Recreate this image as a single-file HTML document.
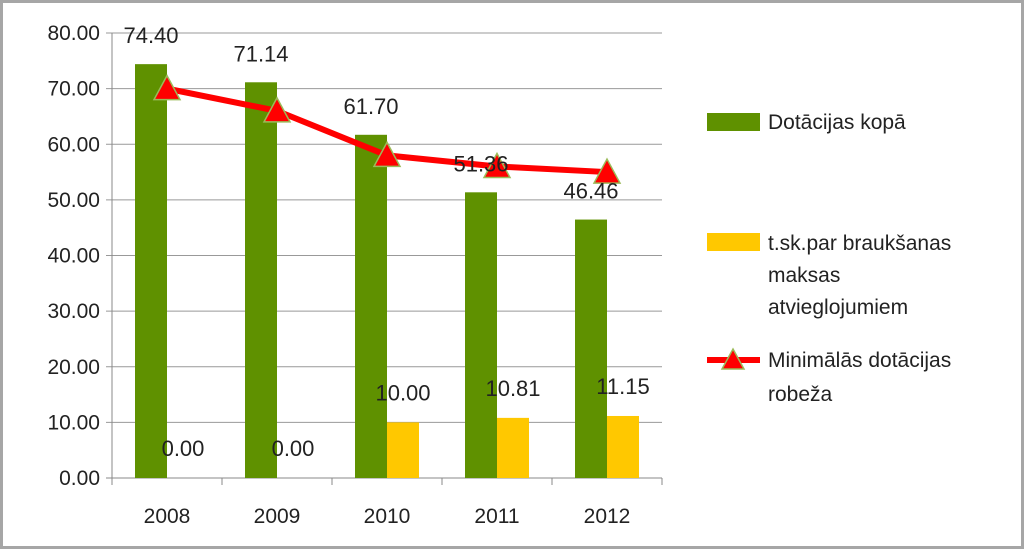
<!DOCTYPE html>
<html><head><meta charset="utf-8"><style>
html,body{margin:0;padding:0;background:#fff}
svg{display:block;font-family:"Liberation Sans",sans-serif}
</style></head><body>
<svg id="c" width="1024" height="549">
<rect x="1.5" y="1.5" width="1021" height="546" fill="#fff" stroke="#a6a6a6" stroke-width="3"/>
<g id="grid"></g><g id="bars"></g><g id="line"></g><g id="labels"></g>
<g font-size="21" fill="#222">
 <rect x="707" y="113" width="53" height="18" fill="#5f9100"/>
 <text x="768" y="129">Dotācijas kopā</text>
 <rect x="707" y="233" width="53" height="18" fill="#ffc800"/>
 <text x="768" y="250"><tspan x="768">t.sk.par braukšanas</tspan><tspan x="768" dy="32">maksas</tspan><tspan x="768" dy="32">atvieglojumiem</tspan></text>
 <line x1="707" y1="360" x2="760" y2="360" stroke="#ff0000" stroke-width="6"/>
 <polygon points="733,349 744,369 722,369" fill="#ff0000" stroke="#9bbb59" stroke-width="1.5"/>
 <text x="768" y="367"><tspan x="768">Minimālās dotācijas</tspan><tspan x="768" dy="34">robeža</tspan></text>
</g>
</svg>
<script>
const categories=["2008","2009","2010","2011","2012"];
const totalValues=[74.40,71.14,61.70,51.36,46.46];
const fareValues=[0.00,0.00,10.00,10.81,11.15];
const minValues=[70,66,58,56,55];
const yTicks=[0,10,20,30,40,50,60,70,80];
const NS="http://www.w3.org/2000/svg";
const L=112,R=662,T=33,B=478,yMax=80;
const cw=(R-L)/categories.length,bw=32;
const y=v=>B-(v/yMax)*(B-T);
const xc=i=>L+cw*(i+0.5);
function mk(tag,attrs,parent,text){const e=document.createElementNS(NS,tag);for(const k in attrs)e.setAttribute(k,attrs[k]);if(text!==undefined)e.textContent=text;document.getElementById(parent).appendChild(e);return e;}
yTicks.forEach(t=>{
 const g=mk("line",{x1:L-6,x2:R,y1:y(t),y2:y(t),stroke:t===0?"#888":"#999","stroke-width":1},"grid");
 
 
 const tx=mk("text",{x:L-12,y:y(t)+7,"text-anchor":"end","font-size":21,fill:"#222"},"grid",t.toFixed(2));
 
 
});
const ax=mk("line",{x1:L,x2:L,y1:T,y2:B,stroke:"#888"},"grid");


for(let i=0;i<=categories.length;i++){
 const tk=mk("line",{x1:L+cw*i,x2:L+cw*i,y1:B,y2:B+7,stroke:"#888"},"grid");
 
 
}
categories.forEach((c,i)=>{
 const t=mk("text",{x:xc(i),y:B+45,"text-anchor":"middle","font-size":21,fill:"#222"},"labels",c);
 
 
 const gb=mk("rect",{x:xc(i)-bw,y:y(totalValues[i]),width:bw,height:B-y(totalValues[i]),fill:"#5f9100"},"bars");
 
 
 const yb=mk("rect",{x:xc(i),y:y(fareValues[i]),width:bw,height:B-y(fareValues[i]),fill:"#ffc800"},"bars");
 
 
 const gl=mk("text",{x:xc(i)-bw/2,y:y(totalValues[i])-21,"text-anchor":"middle","font-size":22,fill:"#222"},"labels",totalValues[i].toFixed(2));
 
 
 const yl=mk("text",{x:xc(i)+bw/2,y:y(fareValues[i])-22,"text-anchor":"middle","font-size":22,fill:"#222"},"labels",fareValues[i].toFixed(2));
 
 
});
const pts=minValues.map((v,i)=>[xc(i),y(v)]);
const pl=mk("polyline",{points:pts.map(p=>p.join(",")).join(" "),fill:"none",stroke:"#ff0000","stroke-width":6,"stroke-linejoin":"round"},"line");


pts.forEach(p=>{
 const m=mk("polygon",{points:`${p[0]},${p[1]-13} ${p[0]+13},${p[1]+11} ${p[0]-13},${p[1]+11}`,fill:"#ff0000",stroke:"#9bbb59","stroke-width":1.5},"line");
 
 
});
</script>
</body></html>
